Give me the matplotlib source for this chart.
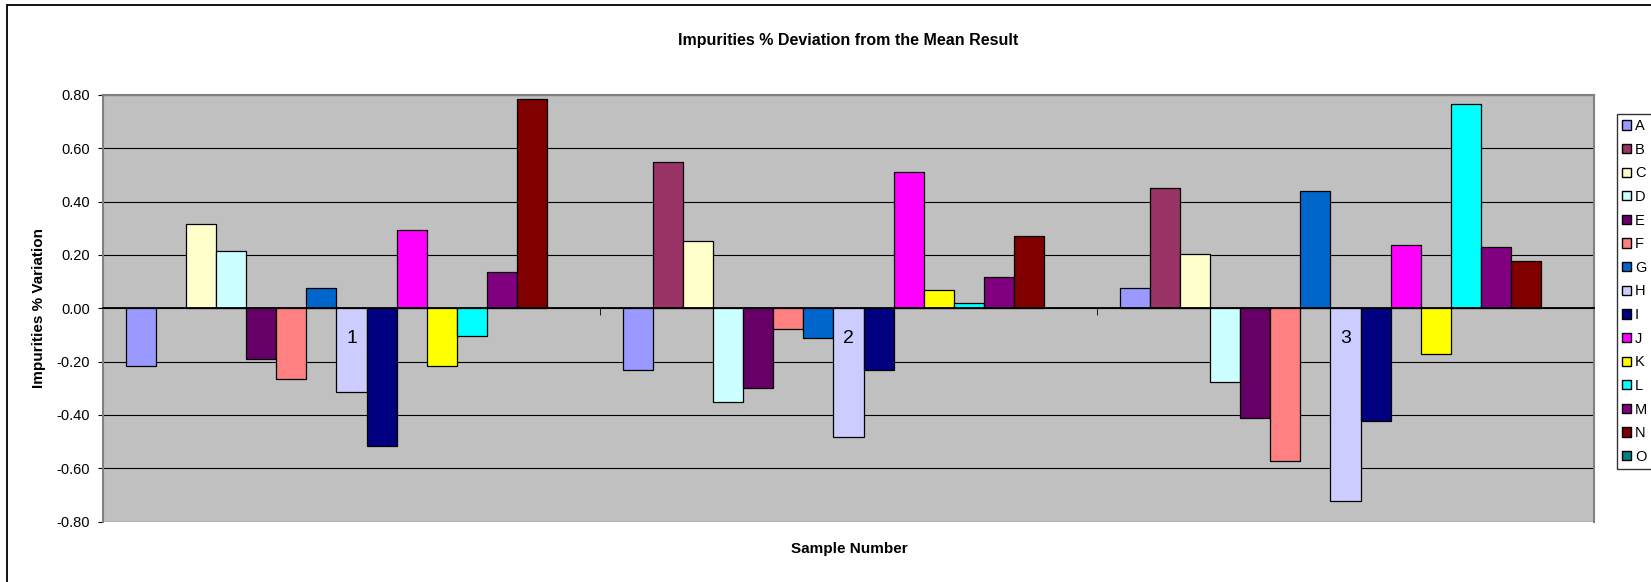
import numpy as np
import matplotlib
matplotlib.use("Agg")
import matplotlib.pyplot as plt
from matplotlib.patches import Patch, Rectangle

plt.rcParams['font.family'] = ['Liberation Sans', 'DejaVu Sans']

samples = ["1", "2", "3"]
series = ["A", "B", "C", "D", "E", "F", "G", "H", "I", "J", "K", "L", "M", "N", "O"]
colors = ["#9999FF", "#993366", "#FFFFCC", "#CCFFFF", "#660066", "#FF8080",
          "#0066CC", "#CCCCFF", "#000080", "#FF00FF", "#FFFF00", "#00FFFF",
          "#800080", "#800000", "#008080"]

# deviation per series, one value per sample (1, 2, 3)
A = [-0.215, -0.232, 0.078]
B = [np.nan, 0.550, 0.453]
C = [0.315, 0.254, 0.205]
D = [0.215, -0.352, -0.278]
E = [-0.190, -0.298, -0.413]
F = [-0.265, -0.079, -0.573]
G = [0.075, -0.110, 0.439]
H = [-0.315, -0.483, -0.723]
I = [-0.517, -0.232, -0.423]
J = [0.295, 0.510, 0.239]
K = [-0.215, 0.069, -0.173]
L = [-0.104, 0.019, 0.765]
M = [0.135, 0.118, 0.229]
N = [0.785, 0.270, 0.178]
O = [np.nan, np.nan, np.nan]
values = [A, B, C, D, E, F, G, H, I, J, K, L, M, N, O]
yticks = [-0.8, -0.6, -0.4, -0.2, 0.0, 0.2, 0.4, 0.6, 0.8]

W, Hpx = 1651, 582
fig = plt.figure(figsize=(W / 100, Hpx / 100), dpi=100)
ax = fig.add_axes([103 / W, 1 - 521.6 / Hpx, (1594 - 103) / W, (521.6 - 95) / Hpx])
ax.set_facecolor("#C0C0C0")

x = np.arange(len(samples))
w = 1 / 16.5
for k, (name, vals) in enumerate(zip(series, values)):
    ax.bar(x + (k - 7) * w, vals, width=w, color=colors[k], edgecolor="black",
           linewidth=0.9, label=name, zorder=3)

ax.set_xlim(-0.5, 2.5)
ax.set_ylim(-0.8, 0.8)
ax.set_yticks(yticks)
ax.set_yticklabels([f"{v:.2f}" for v in yticks])
ax.yaxis.grid(True, color="black", linewidth=0.8, zorder=1)
ax.set_axisbelow(True)

ax.spines['bottom'].set_position(('data', 0))
ax.spines['bottom'].set_color("black")
ax.spines['bottom'].set_linewidth(1.3)
ax.spines['bottom'].set_zorder(4)
for s in ['top', 'right', 'left']:
    ax.spines[s].set_color("#808080")
    ax.spines[s].set_linewidth(1.5)

# category labels sit on top of the bars, so draw them as text
ax.set_xticks(x)
ax.set_xticklabels([])
ax.set_xticks([0.5, 1.5], minor=True)
ax.tick_params(axis='x', which='major', length=0)
ax.tick_params(axis='x', which='minor', length=5, direction='out', color='black')
ax.tick_params(axis='y', length=3.5, pad=6, labelsize=10.5, color='black')
for xi, lab in zip(x, samples):
    ax.annotate(lab, (xi, 0), xytext=(0, -22), textcoords='offset points',
                ha='center', va='center', fontsize=14, zorder=6)

fig.text(848 / W, 1 - 40 / Hpx, "Impurities % Deviation from the Mean Result",
         ha='center', va='center', fontsize=11.5, fontweight='bold')
fig.text(849 / W, 1 - 549 / Hpx, "Sample Number",
         ha='center', va='center', fontsize=11, fontweight='bold')
fig.text(39 / W, 1 - 308 / Hpx, "Impurities % Variation", rotation=90,
         ha='center', va='center', fontsize=11, fontweight='bold')

handles = [Patch(facecolor=c, edgecolor='black', linewidth=1) for c in colors]
leg = fig.legend(handles, series, loc='upper left',
                 bbox_to_anchor=(1616.7 / W, 1 - 114 / Hpx),
                 fontsize=10.5, frameon=True, fancybox=False, edgecolor='black',
                 handlelength=0.6, handleheight=0.6, handletextpad=0.3,
                 labelspacing=0.66, borderpad=0.35, borderaxespad=0)
leg.get_frame().set_linewidth(1)

fig.patches.append(Rectangle((7 / W, -0.1), 1.2, 1.1 - 5 / Hpx, transform=fig.transFigure,
                             fill=False, edgecolor='black', linewidth=1.3))

fig.savefig("out.png", dpi=100)
